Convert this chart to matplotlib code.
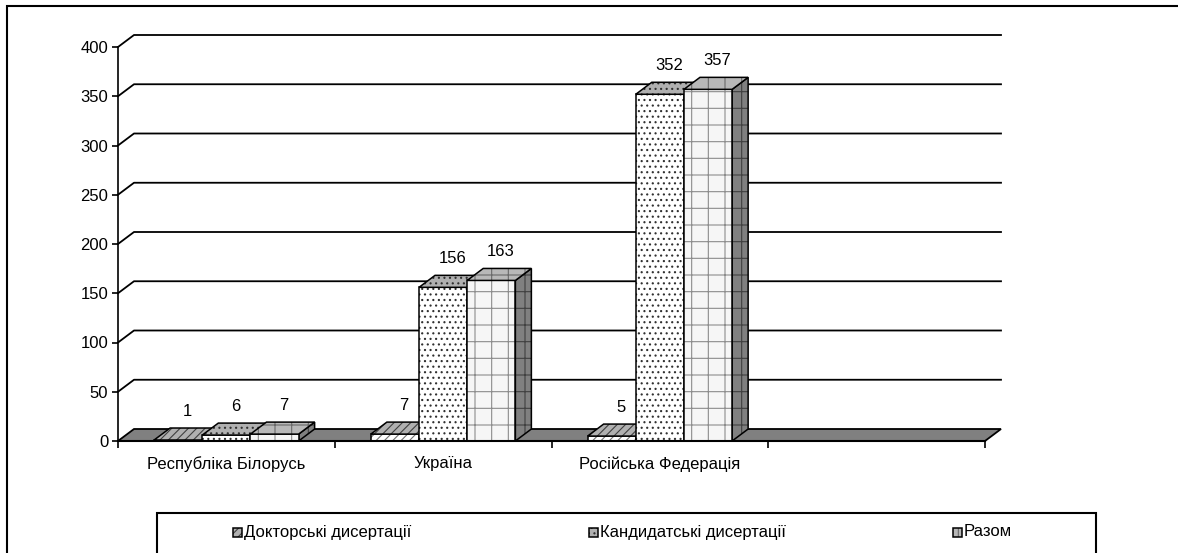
import matplotlib
matplotlib.use('Agg')
import matplotlib.pyplot as plt
from matplotlib.patches import Polygon, Rectangle
from matplotlib.lines import Line2D
from matplotlib.transforms import IdentityTransform

# ---------------- data ----------------
categories = ['Республіка Білорусь', 'Україна', 'Російська Федерація', '']
series_names = ['Докторські дисертації', 'Кандидатські дисертації', 'Разом']
doctoral = [1, 7, 5]
candidate = [6, 156, 352]
total = [7, 163, 357]
y_ticks = [0, 50, 100, 150, 200, 250, 300, 350, 400]

# ---------------- styles ----------------
W, H = 1178, 553
DX, DY = 16, 12          # 3-D depth offset in pixels
FS = 12
plt.rcParams['hatch.linewidth'] = 0.8
plt.rcParams['font.family'] = ['Liberation Sans', 'DejaVu Sans']

styles = [
    dict(front='#ffffff', fh='#707070', top='#b0b0b0', th='#404040', side='#808080', sh='#303030', hatch='////'),
    dict(front='#ffffff', fh='#303030', top='#b0b0b0', th='#303030', side='#808080', sh='#202020', hatch='...'),
    dict(front='#f6f6f6', fh='#8c8c8c', top='#b8b8b8', th='#6a6a6a', side='#808080', sh='#404040', hatch='+'),
]

fig = plt.figure(figsize=(W / 100, H / 100), dpi=100)
ax = fig.add_axes([118 / W, 1 - 441 / H, (985 - 118) / W, (441 - 47) / H])
ax.set_xlim(0, 4)
ax.set_ylim(0, 400)
ax.set_autoscale_on(False)
ax.patch.set_visible(False)
for s in ['top', 'right']:
    ax.spines[s].set_visible(False)
ax.spines['left'].set_linewidth(1.2)
ax.spines['bottom'].set_linewidth(1.5)
ax.spines['bottom'].set_zorder(20)
ax.set_yticks(y_ticks)
ax.tick_params(axis='y', direction='out', length=4, width=1.2, labelsize=FS, pad=3)
ax.set_xticks(range(len(categories) + 1))
ax.set_xticklabels([''] * (len(categories) + 1))
ax.tick_params(axis='x', which='major', direction='out', length=5, width=1.2)
ax.set_xticks([i + 0.5 for i in range(len(categories))], minor=True)
ax.set_xticklabels(categories, minor=True, fontsize=FS)
ax.tick_params(axis='x', which='minor', length=0, pad=11)

ID = IdentityTransform()


def P(x, v, d):
    px, py = ax.transData.transform((x, v))
    return (px + d * DX, py + d * DY)


# back wall gridlines
for v in y_ticks[1:]:
    pts = [P(0, v, 0), P(0, v, 1), P(len(categories), v, 1)]
    ax.add_line(Line2D([p[0] for p in pts], [p[1] for p in pts], transform=ID,
                       color='black', lw=1.3, clip_on=False, zorder=1))

# floor
floor = [P(0, 0, 0), P(len(categories), 0, 0), P(len(categories), 0, 1), P(0, 0, 1)]
ax.add_patch(Polygon(floor, closed=True, transform=ID, fc='#808080', ec='black',
                     lw=1.3, clip_on=False, zorder=2))

z = [3.0]


def face(pts, fc, hc, hatch):
    ax.add_patch(Polygon(pts, closed=True, transform=ID, fc=fc, ec=hc, lw=0,
                         hatch=hatch, clip_on=False, zorder=z[0]))
    ax.add_patch(Polygon(pts, closed=True, transform=ID, fill=False, ec='black',
                         lw=1.1, clip_on=False, zorder=z[0] + 0.001))
    z[0] += 0.01


w = 1 / 4.5
values = [doctoral, candidate, total]
for i in range(len(doctoral)):
    for j, vals in enumerate(values):
        v = vals[i]
        st = styles[j]
        xl = i + 0.5 + (j - 1.5) * w
        xr = xl + w
        front = [P(xl, 0, 0), P(xr, 0, 0), P(xr, v, 0), P(xl, v, 0)]
        top = [P(xl, v, 0), P(xr, v, 0), P(xr, v, 1), P(xl, v, 1)]
        side = [P(xr, 0, 0), P(xr, 0, 1), P(xr, v, 1), P(xr, v, 0)]
        face(side, st['side'], st['sh'], st['hatch'])
        face(front, st['front'], st['fh'], st['hatch'])
        face(top, st['top'], st['th'], st['hatch'])
        tx, ty = P((xl + xr) / 2, v, 1)
        ax.text(tx - 7, ty + 9, str(v), transform=ID, ha='center', va='bottom',
                fontsize=FS, zorder=30)


# ---------------- legend & frame ----------------
def fx(px):
    return px / W


def fy(py):
    return 1 - py / H


fig.add_artist(Rectangle((fx(7), fy(620)), fx(1300) - fx(7), fy(6) - fy(620),
                         transform=fig.transFigure, fill=False, ec='black', lw=1.5))
fig.add_artist(Rectangle((fx(157), fy(600)), fx(1096) - fx(157), fy(513) - fy(600),
                         transform=fig.transFigure, fill=False, ec='black', lw=1.5))
legend_x = [237, 593, 957]
for k, name in enumerate(series_names):
    st = styles[k]
    mx, my = legend_x[k], 532
    fig.add_artist(Rectangle((fx(mx - 4.5), fy(my + 4.5)), 9 / W, 9 / H,
                             transform=fig.transFigure, fc=st['top'], ec=st['th'], lw=0,
                             hatch=st['hatch']))
    fig.add_artist(Rectangle((fx(mx - 4.5), fy(my + 4.5)), 9 / W, 9 / H,
                             transform=fig.transFigure, fill=False, ec='black', lw=1.1))
    fig.text(fx(mx + 7), fy(my), name, ha='left', va='center', fontsize=FS)

fig.savefig('out.png', dpi=100)
